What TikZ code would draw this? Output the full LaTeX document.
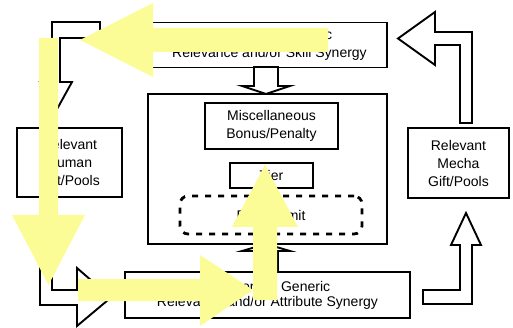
\documentclass[tikz,border=0pt]{standalone}
\usepackage{fontspec}
\setmainfont{Liberation Sans}
\definecolor{hl}{RGB}{252,252,150}
\begin{document}
\begin{tikzpicture}[x=1pt,y=-1pt,
  box/.style={draw=black,line width=1.9pt,fill=white,inner sep=0pt,align=center,
    font=\fontsize{14}{18}\selectfont},
  dotbox/.style={draw=black,line width=2.8pt,dash pattern=on 6pt off 7pt,rounded corners=8pt,
    inner sep=0pt,align=center,font=\fontsize{14}{18}\selectfont},
  blockarrow/.style={draw=black,line width=1.9pt,fill=white,line join=miter},
  hiarrow/.style={fill=hl,draw=none}]
\useasboundingbox (0,0) rectangle (513,328);
% boxes
\node[box,minimum width=239pt,minimum height=150pt] (core) at (267.5,169) {};
\node[box,minimum width=133pt,minimum height=46pt] (misc) at (271.5,126) {Miscellaneous\\Bonus/Penalty};
\node[box,minimum width=83pt,minimum height=25pt] (tier) at (271.5,175.5) {Tier};
\node[dotbox,minimum width=182pt,minimum height=38pt] (limit) at (271,215) {Effect Limit};
\node[box,minimum width=235pt,minimum height=45pt] (top) at (269.5,45) {Component Generic\\Relevance and/or Skill Synergy};
\node[box,minimum width=285pt,minimum height=46pt,font=\fontsize{14}{15}\selectfont] (bottom) at (267.5,295) {Component Generic\\Relevance and/or Attribute Synergy};
\node[box,minimum width=105pt,minimum height=69pt] (left) at (69.5,162.5) {Relevant\\Human\\Gift/Pools};
\node[box,minimum width=101pt,minimum height=70pt] (right) at (458.5,163) {Relevant\\Mecha\\Gift/Pools};
% hollow block arrows
\draw[blockarrow] (254,67) -- (254,86) -- (242,86) -- (266,94) -- (290,86) -- (278,86) -- (278,67) -- cycle;
\draw[blockarrow] (254,272) -- (254,251) -- (242,251) -- (266,244) -- (290,251) -- (278,251) -- (278,272) -- cycle;
\draw[blockarrow] (100,22) -- (52,22) -- (52,82) -- (40,82) -- (56,111) -- (72,82) -- (60,82) -- (60,38) -- (100,38) -- cycle;
\draw[blockarrow] (472,123) -- (472,32) -- (435,32) -- (435,12) -- (398,38.5) -- (435,65) -- (435,45) -- (460,45) -- (460,123) -- cycle;
\draw[blockarrow] (40,201) -- (40,305) -- (77,305) -- (77,326) -- (111,297.5) -- (77,268) -- (77,290) -- (52,290) -- (52,201) -- cycle;
\draw[blockarrow] (423,290) -- (423,304) -- (472,304) -- (472,245) -- (481,245) -- (466,213) -- (451,245) -- (460,245) -- (460,290) -- cycle;
% yellow highlight arrows
\fill[hiarrow] (328,28) -- (153,28) -- (153,3) -- (80,40) -- (153,77) -- (153,52) -- (328,52) -- cycle;
\fill[hiarrow] (39,38) -- (58,38) -- (58,215) -- (85,215) -- (48.5,285) -- (12,215) -- (39,215) -- cycle;
\fill[hiarrow] (78,279) -- (200,279) -- (200,255) -- (253,290) -- (200,326) -- (200,301) -- (78,301) -- cycle;
\fill[hiarrow] (253,300) -- (253,227) -- (232,227) -- (265,165) -- (298,227) -- (277,227) -- (277,300) -- cycle;
\end{tikzpicture}
\end{document}
